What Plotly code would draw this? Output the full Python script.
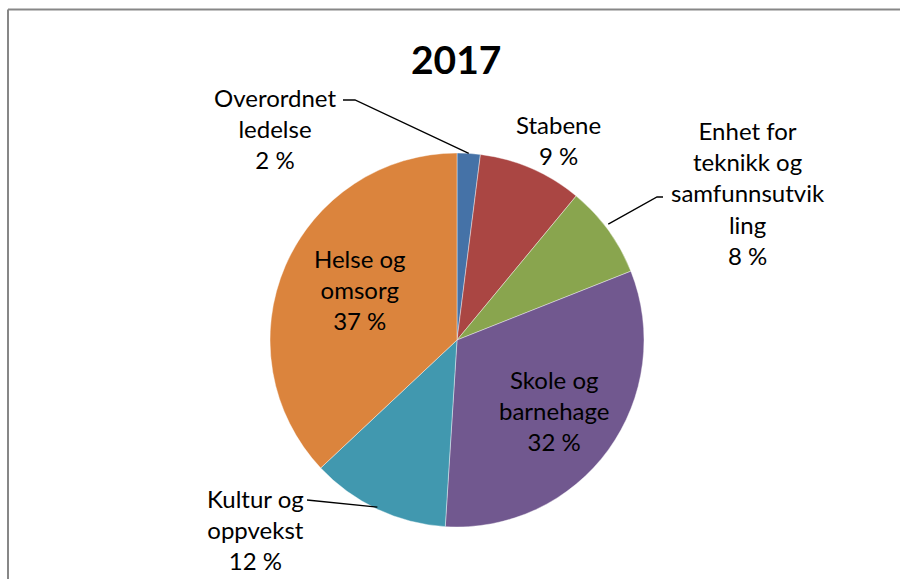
import math
import plotly.graph_objects as go

# ---- data ----
categories = ["Overordnet ledelse", "Stabene", "Enhet for teknikk og samfunnsutvikling",
              "Skole og barnehage", "Kultur og oppvekst", "Helse og omsorg"]
values = [2, 9, 8, 32, 12, 37]
label_texts = ["Overordnet<br>ledelse<br>2 %", "Stabene<br>9 %",
               "Enhet for<br>teknikk og<br>samfunnsutvik<br>ling<br>8 %",
               "Skole og<br>barnehage<br>32 %", "Kultur og<br>oppvekst<br>12 %",
               "Helse og<br>omsorg<br>37 %"]
colors = ["#4572A7", "#AA4643", "#89A54E", "#71588F", "#4198AF", "#DB843D"]
title_text = "2017"

FW, FH = 900, 579
CX, CY, R = 457, 340, 187  # pie centre / radius in pixels


def px(x):
    return x / FW


def py(y):
    return 1 - y / FH


fig = go.Figure()
fig.add_trace(go.Pie(
    labels=categories, values=values, sort=False, direction="clockwise", rotation=0,
    marker=dict(colors=colors, line=dict(color="rgba(255,255,255,0.5)", width=0.8)),
    textinfo="none", hoverinfo="label+percent", showlegend=False,
    domain=dict(x=[px(CX - R), px(CX + R)], y=[py(CY + R), py(CY - R)]),
))

total = sum(values)
mid_angles = []
cum = 0
for v in values:
    mid_angles.append((cum + v / 2) / total * 2 * math.pi)
    cum += v


def edge_point(i, frac=1.0):
    a = mid_angles[i]
    return CX + frac * R * math.sin(a), CY - frac * R * math.cos(a)


label_pos = {
    0: (275, 128),
    1: (558, 140),
    2: (748, 193),
    3: edge_point(3, 0.64),
    4: (255, 529),
    5: (360, 289),
}

font = dict(family="Lato, 'Open Sans', sans-serif", size=24, color="#000000")
annotations = []
for i, t in enumerate(label_texts):
    x, y = label_pos[i]
    annotations.append(dict(x=px(x), y=py(y), xref="paper", yref="paper", text=t,
                            showarrow=False, font=font, align="center",
                            xanchor="center", yanchor="middle"))
annotations.append(dict(x=px(456), y=py(59), xref="paper", yref="paper", text="<b>" + title_text + "</b>",
                        showarrow=False, xanchor="center", yanchor="middle",
                        font=dict(family="Lato, sans-serif", size=39, color="#000000")))

border = dict(color="#878787", width=2)
shapes = [
    dict(type="line", xref="paper", yref="paper", x0=px(8), y0=py(9.5), x1=px(8), y1=0, line=border),
    dict(type="line", xref="paper", yref="paper", x0=px(8), y0=py(9.5), x1=1, y1=py(9.5), line=border),
]


def leader(points):
    d = "M " + " L ".join(f"{px(x)},{py(y)}" for x, y in points)
    return dict(type="path", xref="paper", yref="paper", path=d, line=dict(color="#000000", width=1.3))


ex, ey = edge_point(0)
shapes.append(leader([(343, 100), (355, 100), (ex, ey)]))
ex, ey = edge_point(2)
shapes.append(leader([(663, 197), (657, 197), (ex, ey - 6)]))
ex, ey = edge_point(4)
shapes.append(leader([(307, 500), (ex, ey - 2)]))

fig.update_layout(
    width=FW, height=FH, margin=dict(l=0, r=0, t=0, b=0),
    paper_bgcolor="white", plot_bgcolor="white",
    annotations=annotations, shapes=shapes,
)
fig.write_html("out.html", config={"displayModeBar": False},
               post_script="document.body.style.margin='0';document.body.style.overflow='hidden';")
